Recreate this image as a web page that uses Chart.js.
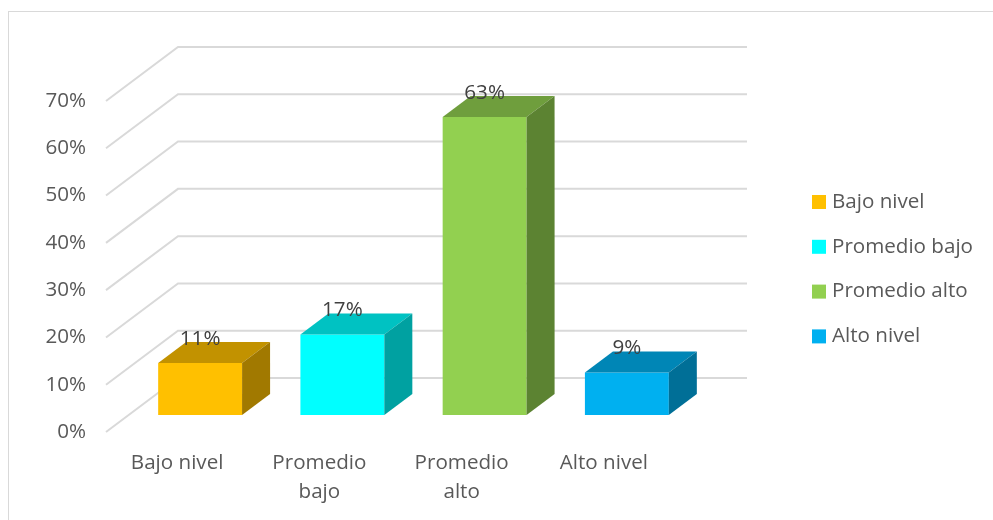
<!DOCTYPE html>
<html>
<head>
<meta charset="utf-8">
<script src="https://cdn.jsdelivr.net/npm/chart.js@4"></script>
<style>
    html, body { margin: 0; padding: 0; background: #fff; }
    canvas { display: block; }
</style>
</head>
<body>
<canvas id="chart" width="993" height="520"></canvas>
<script>
const categories = ["Bajo nivel", "Promedio bajo", "Promedio alto", "Alto nivel"]
const axisLabels = [["Bajo nivel"], ["Promedio", "bajo"], ["Promedio", "alto"], ["Alto nivel"]]
const values = [11, 17, 63, 9]
const yTicks = [0, 10, 20, 30, 40, 50, 60, 70]

const frontColors = ["#FFC000", "#00FFFF", "#92D050", "#00B0F0"]
const topColors   = ["#C29200", "#00C2C2", "#6F9E3D", "#0086B6"]
const sideColors  = ["#A17900", "#00A1A1", "#5C8332", "#006F97"]

const FONT = "'Open Sans', sans-serif"
const TEXT = "#595959"

// depth offsets from the bar plane (pixels)
const toFront = { x: -23, y: 17 }
const toBack  = { x: 49, y: -37 }
const barDepth = { x: 28, y: -21 }

const bars3d = {
    id: "bars3d",
    beforeDatasetsDraw(chart) {
        const { ctx, chartArea: a, scales: { y } } = chart
        ctx.save()
        // frame
        ctx.strokeStyle = "#D9D9D9"
        ctx.lineWidth = 1
        ctx.strokeRect(8.5, 11.5, 1200, 1200)
        // walls grid
        ctx.lineWidth = 2
        yTicks.forEach(t => {
            const py = y.getPixelForValue(t)
            ctx.beginPath()
            ctx.moveTo(a.left + toFront.x, py + toFront.y)
            ctx.lineTo(a.left + toBack.x, py + toBack.y)
            ctx.lineTo(a.right + toBack.x, py + toBack.y)
            ctx.stroke()
        })
        ctx.restore()
    },
    afterDatasetsDraw(chart) {
        const { ctx } = chart
        const meta = chart.getDatasetMeta(0)
        ctx.save()
        meta.data.forEach((bar, i) => {
            const l = bar.x - bar.width / 2, r = bar.x + bar.width / 2
            const t = bar.y, b = bar.base
            // top face
            ctx.fillStyle = topColors[i]
            ctx.beginPath()
            ctx.moveTo(l, t)
            ctx.lineTo(l + barDepth.x, t + barDepth.y)
            ctx.lineTo(r + barDepth.x, t + barDepth.y)
            ctx.lineTo(r, t)
            ctx.closePath()
            ctx.fill()
            // side face
            ctx.fillStyle = sideColors[i]
            ctx.beginPath()
            ctx.moveTo(r, t)
            ctx.lineTo(r + barDepth.x, t + barDepth.y)
            ctx.lineTo(r + barDepth.x, b + barDepth.y)
            ctx.lineTo(r, b)
            ctx.closePath()
            ctx.fill()
        })
        ctx.restore()
    },
    afterDraw(chart) {
        const { ctx, chartArea: a, scales: { y } } = chart
        const meta = chart.getDatasetMeta(0)
        ctx.save()
        ctx.font = "20.6px " + FONT
        ctx.textBaseline = "middle"

        // y tick labels
        ctx.fillStyle = TEXT
        ctx.textAlign = "right"
        yTicks.forEach(t => {
            ctx.fillText(t + "%", 86, y.getPixelForValue(t) + toFront.y)
        })

        // category labels
        ctx.textAlign = "center"
        meta.data.forEach((bar, i) => {
            axisLabels[i].forEach((line, k) => {
                ctx.fillText(line, bar.x + toFront.x, a.bottom + 48 + k * 29)
            })
        })

        // data labels
        ctx.fillStyle = "#404040"
        meta.data.forEach((bar, i) => {
            ctx.fillText(values[i] + "%", bar.x, bar.y - 24)
        })

        // legend
        ctx.textAlign = "left"
        categories.forEach((c, i) => {
            const cy = 202 + i * 44.8
            ctx.fillStyle = frontColors[i]
            ctx.fillRect(812, cy - 7, 14, 14)
            ctx.fillStyle = TEXT
            ctx.fillText(c, 832, cy)
        })
        ctx.restore()
    }
}

new Chart(document.getElementById("chart"), {
    type: "bar",
    data: {
        labels: categories,
        datasets: [{
            data: values,
            backgroundColor: frontColors,
            borderWidth: 0,
            categoryPercentage: 1,
            barPercentage: 0.59
        }]
    },
    options: {
        responsive: false,
        animation: false,
        layout: { padding: { left: 129, right: 295, top: 84, bottom: 105 } },
        scales: {
            x: { display: false },
            y: { display: false, min: 0, max: 70, ticks: { stepSize: 10 } }
        },
        plugins: { legend: { display: false }, tooltip: { enabled: false } }
    },
    plugins: [bars3d]
})
</script>
</body>
</html>
